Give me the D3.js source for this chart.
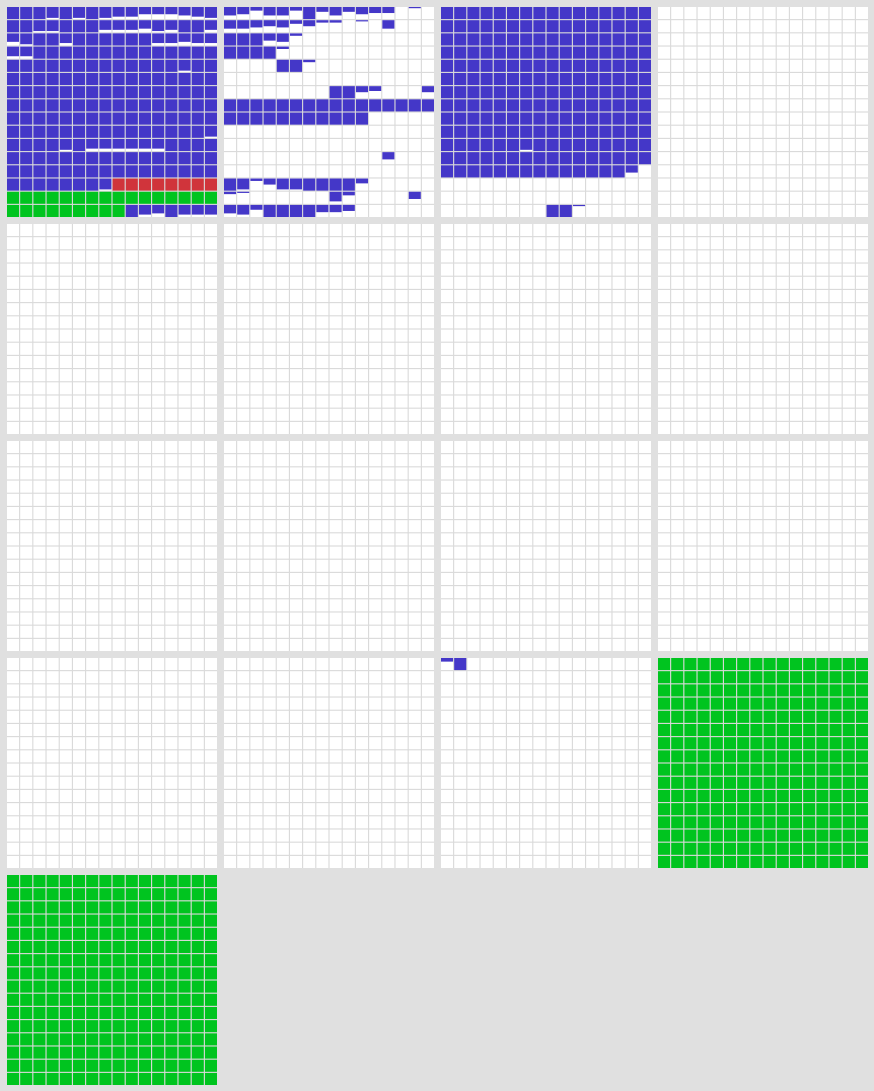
<!DOCTYPE html>
<html><head><meta charset="utf-8">
<script src="https://cdn.jsdelivr.net/npm/d3@7"></script>
<style>html,body{margin:0;padding:0;background:#e0e0e0;}svg{display:block;}</style>
</head><body>
<script>
// Cell codes: '.' empty, 'B' used (blue), 'R' red, 'G' green, '1'-'9' partly used (tenths)
const EMPTY = ["................","................","................","................",
  "................","................","................","................",
  "................","................","................","................",
  "................","................","................","................"];
const FULLG = ["GGGGGGGGGGGGGGGG","GGGGGGGGGGGGGGGG","GGGGGGGGGGGGGGGG","GGGGGGGGGGGGGGGG",
  "GGGGGGGGGGGGGGGG","GGGGGGGGGGGGGGGG","GGGGGGGGGGGGGGGG","GGGGGGGGGGGGGGGG",
  "GGGGGGGGGGGGGGGG","GGGGGGGGGGGGGGGG","GGGGGGGGGGGGGGGG","GGGGGGGGGGGGGGGG",
  "GGGGGGGGGGGGGGGG","GGGGGGGGGGGGGGGG","GGGGGGGGGGGGGGGG","GGGGGGGGGGGGGGGG"];
const panel0 = [
  "BBB9B9B988666789","BB99BBB888798BB8","79BB8BBBBBB88788","88BBBBBBBBBBBBBB",
  "BBBBBBBBBBBBB9BB","BBBBBBBBBBBBBBBB","BBBBBBBBBBBBBBBB","BBBBBBBBBBBBBBBB",
  "BBBBBBBBBBBBBBBB","BBBBBBBBBBBBBBB9","BBBB9B888888BBBB","BBBBBBBBBBBBBBBB",
  "BBBBBBBBBBBBBBBB","BBBBBBB9RRRRRRRR","GGGGGGGGGGGGGGGG","GGGGGGGGGB87B888"];
const panel1 = [
  "763773B474655.1.","776563522.1.7...","BBB672..........","BBBB2...........",
  "....BB2.........","................","........BB54...5","BBBBBBBBBBBBBBBB",
  "BBBBBBBBBBB.....","................","................","............6...",
  "................","B92599BBBB4.....","21......83....6.","784BBBB665......"];
const panel2 = [
  "BBBBBBBBBBBBBBBB","BBBBBBBBBBBBBBBB","BBBBBBBBBBBBBBBB","BBBBBBBBBBBBBBBB",
  "BBBBBBBBBBBBBBBB","BBBBBBBBBBBBBBBB","BBBBBBBBBBBBBBBB","BBBBBBBBBBBBBBBB",
  "BBBBBBBBBBBBBBBB","BBBBBBBBBBBBBBBB","BBBBBB9BBBBBBBBB","BBBBBBBBBBBBBBBB",
  "BBBBBBBBBBBBBB6.","................","................","........BB1....."];
const panel14 = [
  "3B..............","................","................","................",
  "................","................","................","................",
  "................","................","................","................",
  "................","................","................","................"];
const panels = [panel0, panel1, panel2, EMPTY, EMPTY, EMPTY, EMPTY, EMPTY, EMPTY,
  EMPTY, EMPTY, EMPTY, EMPTY, EMPTY, panel14, FULLG, FULLG];

const colors = {B:"#4437c8", R:"#d0343b", G:"#00c41f", ".":"#ffffff"};
const W = 874, H = 1091;
const svg = d3.select("body").append("svg").attr("width", W).attr("height", H);
svg.append("rect").attr("width", W).attr("height", H).attr("fill", "#e0e0e0");

const pcol = d3.scaleBand().domain(d3.range(4)).range([7, 868]).paddingInner(7/217);
const prow = d3.scaleBand().domain(d3.range(5)).range([7, 1085]).paddingInner(7/217);
const cell = d3.scaleBand().domain(d3.range(16)).range([0, pcol.bandwidth()]).paddingInner(0.085).paddingOuter(0);

const cells = [];
panels.forEach((rows, p) => {
  rows.forEach((row, r) => {
    row.split("").forEach((code, c) => cells.push({p, r, c, code}));
  });
});

const g = svg.append("g");
const pg = g.selectAll("g.panel").data(panels).join("g")
  .attr("transform", (d, i) => `translate(${pcol(i % 4)},${prow(Math.floor(i / 4))})`);
pg.append("rect").attr("width", pcol.bandwidth()).attr("height", prow.bandwidth()).attr("fill", "#dadada");

const cg = g.selectAll("g.cell").data(cells).join("g")
  .attr("transform", d => `translate(${pcol(d.p % 4) + cell(d.c)},${prow(Math.floor(d.p / 4)) + cell(d.r)})`);
const bw = cell.bandwidth();
cg.append("rect").attr("width", bw).attr("height", bw)
  .attr("fill", d => colors[d.code] || "#ffffff");
cg.filter(d => /[1-9]/.test(d.code)).append("rect")
  .attr("width", bw).attr("height", d => bw * (+d.code) / 10)
  .attr("fill", colors.B);
</script>
</body></html>
